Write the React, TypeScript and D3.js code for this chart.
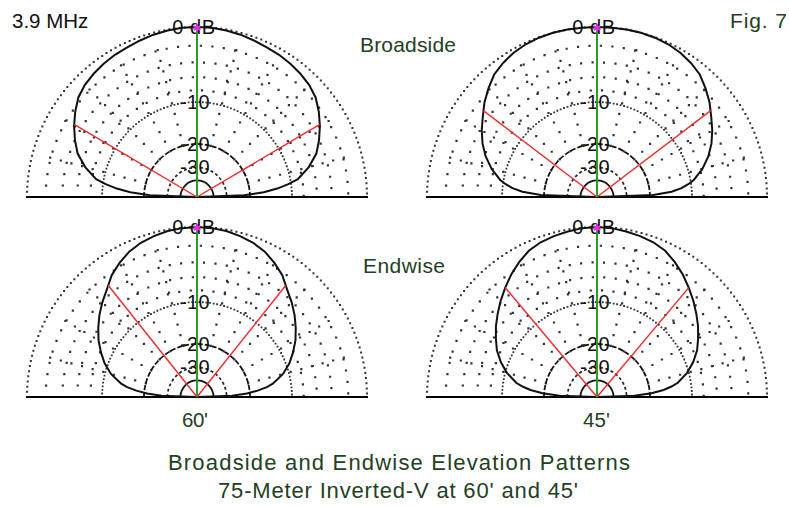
import React from 'react';
import * as d3 from 'd3';

const W = 789;
const H = 506;

// Elevation angles (degrees above horizon) for one half of each pattern
const elevAngles = [0, 2, 4, 6, 8, 10, 15, 20, 25, 30, 35, 40, 45, 50, 55, 60, 65, 70, 75, 80, 85, 90];
// Relative gain in dB at those angles (patterns are symmetric about 90 deg)
const broadside60 = [-99, -22, -16, -12.8, -10.5, -8.7, -6.6, -5.0, -4.0, -3.1, -2.3, -1.6, -1.2, -0.95, -0.75, -0.6, -0.5, -0.35, -0.2, -0.1, 0, 0];
const broadside45 = [-99, -19, -14.1, -11.9, -10.5, -9.4, -7.6, -6.2, -5.1, -4.2, -3.4, -2.5, -1.75, -1.05, -0.65, -0.34, -0.15, -0.05, 0, 0, 0, 0];
const endwise60 = [-99, -27, -21, -17.6, -15.1, -13.6, -11.1, -9.4, -8.1, -6.9, -5.9, -4.95, -4.1, -3.3, -2.3, -1.6, -1.0, -0.6, -0.35, -0.15, -0.05, 0];
const endwise45 = [-99, -26, -19.5, -16, -14, -12.5, -10.3, -8.7, -7.4, -6.45, -5.5, -4.65, -3.8, -3.0, -2.2, -1.5, -0.9, -0.55, -0.35, -0.2, -0.05, 0];
const peakAngles = [90, 90, 90, 90];

const ringLabelDb = [0, -10, -20, -30];
const ringLabels = ['0 dB', '-10', '-20', '-30'];
const sparseRingsDb = [-2, -4, -6, -8];
const spokeAngles = [15, 30, 45, 60, 75, 105, 120, 135, 150, 165];
const halfPowerDb = -3;

const R = 170;
const rScale = (db: number) => R * Math.pow(0.89, -db / 2);
const aScale = d3.scaleLinear().domain([0, 180]).range([Math.PI / 2, -Math.PI / 2]);

const panels = [
  { cx: 197, cy: 197, data: broadside60, peak: peakAngles[0] },
  { cx: 597, cy: 197, data: broadside45, peak: peakAngles[1] },
  { cx: 197, cy: 397, data: endwise60, peak: peakAngles[2] },
  { cx: 597, cy: 397, data: endwise45, peak: peakAngles[3] },
];

const radialLine = d3
  .lineRadial<[number, number]>()
  .angle((d) => aScale(d[0]))
  .radius((d) => rScale(d[1]));

function semi(r: number) {
  const p = d3.path();
  p.moveTo(-r, 0);
  p.arc(0, 0, r, Math.PI, 2 * Math.PI, false);
  return p.toString();
}

function halfPowerAngle(db: number[]) {
  for (let i = 0; i < db.length - 1; i++) {
    if (db[i] < halfPowerDb && db[i + 1] >= halfPowerDb) {
      const t = (halfPowerDb - db[i]) / (db[i + 1] - db[i]);
      return elevAngles[i] + t * (elevAngles[i + 1] - elevAngles[i]);
    }
  }
  return 45;
}

const FONT = '"Liberation Sans", Arial, sans-serif';
const GREEN_TEXT = '#23401f';
const DOT = '#333';

function Panel({ cx, cy, data, peak }: { cx: number; cy: number; data: number[]; peak: number }) {
  const full: [number, number][] = [
    ...elevAngles.map((a, i) => [a, data[i]] as [number, number]),
    ...elevAngles
      .slice(0, -1)
      .reverse()
      .map((a, j) => [180 - a, data[elevAngles.length - 2 - j]] as [number, number]),
  ];
  const hp = halfPowerAngle(data);
  const hpR = rScale(halfPowerDb);
  const [hx1, hy1] = d3.pointRadial(aScale(hp), hpR);
  const [hx2, hy2] = d3.pointRadial(aScale(180 - hp), hpR);
  const [px, py] = d3.pointRadial(aScale(peak), rScale(0));
  const star = d3.symbol(d3.symbolAsterisk, 40)();
  return (
    <g transform={`translate(${cx},${cy})`}>
      {sparseRingsDb.map((db) => (
        <path key={db} d={semi(rScale(db))} fill="none" stroke={DOT} strokeWidth={2.2}
          strokeDasharray="0 11.5" strokeLinecap="square" />
      ))}
      {spokeAngles.map((a) => {
        const [x1, y1] = d3.pointRadial(aScale(a), rScale(-20));
        const [x2, y2] = d3.pointRadial(aScale(a), rScale(-1));
        return (
          <line key={a} x1={x1} y1={y1} x2={x2} y2={y2} stroke={DOT} strokeWidth={2.2}
            strokeDasharray="0 11" strokeLinecap="square" />
        );
      })}
      <path d={semi(rScale(0))} fill="none" stroke={DOT} strokeWidth={2} strokeDasharray="0 5.2" strokeLinecap="square" />
      <path d={semi(rScale(-10))} fill="none" stroke={DOT} strokeWidth={1.8} strokeDasharray="0 3.6" strokeLinecap="square" />
      <path d={semi(rScale(-20))} fill="none" stroke="#111" strokeWidth={1.8} strokeDasharray="5 2" />
      <path d={semi(rScale(-30))} fill="none" stroke="#222" strokeWidth={1.7} strokeDasharray="3 2.5" />
      <path d={semi(rScale(-40))} fill="none" stroke="#111" strokeWidth={1.8} />
      <line x1={-R - 1} y1={0} x2={R + 1} y2={0} stroke="#000" strokeWidth={2} />
      {ringLabelDb.map((db, i) => (
        <text key={db} x={i === 0 ? -3 : -2} y={-rScale(db) + 7} textAnchor="middle" fontFamily={FONT}
          fontSize={20} letterSpacing={i === 0 ? 0.6 : 0.3} fill="#111">
          {ringLabels[i]}
        </text>
      ))}
      <path d={radialLine(full) || ''} fill="none" stroke="#111" strokeWidth={2} />
      <line x1={0} y1={0} x2={hx1} y2={hy1} stroke="#f02a2a" strokeWidth={1.4} />
      <line x1={0} y1={0} x2={hx2} y2={hy2} stroke="#f02a2a" strokeWidth={1.4} />
      <line x1={0} y1={0} x2={px} y2={py} stroke="#2a9d2a" strokeWidth={2} />
      <path d={star || ''} transform={`translate(${px},${py + 1})`} fill="none" stroke="#e030e0" strokeWidth={2} />
    </g>
  );
}

export default function App() {
  return (
    <svg width={W} height={H} viewBox={`0 0 ${W} ${H}`}
      style={{ position: 'absolute', left: 0, top: 0, background: '#fff' }}>
      <rect x={0} y={0} width={W} height={H} fill="#fff" />
      {panels.map((p, i) => (
        <Panel key={i} {...p} />
      ))}
      <text x={12} y={28} fontFamily={FONT} fontSize={20.5} fill="#111">3.9 MHz</text>
      <text x={730} y={28} fontFamily={FONT} fontSize={21} fill={GREEN_TEXT} textLength={57} lengthAdjust="spacing">Fig. 7</text>
      <text x={360} y={52} fontFamily={FONT} fontSize={21} fill={GREEN_TEXT} textLength={96} lengthAdjust="spacing">Broadside</text>
      <text x={363} y={273} fontFamily={FONT} fontSize={21} fill={GREEN_TEXT} textLength={82} lengthAdjust="spacing">Endwise</text>
      <text x={182} y={427} fontFamily={FONT} fontSize={20.5} fill={GREEN_TEXT} textLength={26} lengthAdjust="spacing">60'</text>
      <text x={583} y={427} fontFamily={FONT} fontSize={20.5} fill={GREEN_TEXT} textLength={27} lengthAdjust="spacing">45'</text>
      <text x={168} y={470} fontFamily={FONT} fontSize={22} fill={GREEN_TEXT} textLength={462} lengthAdjust="spacing">
        Broadside and Endwise Elevation Patterns
      </text>
      <text x={218} y={498} fontFamily={FONT} fontSize={22} fill={GREEN_TEXT} textLength={360} lengthAdjust="spacing">
        75-Meter Inverted-V at 60' and 45'
      </text>
    </svg>
  );
}
